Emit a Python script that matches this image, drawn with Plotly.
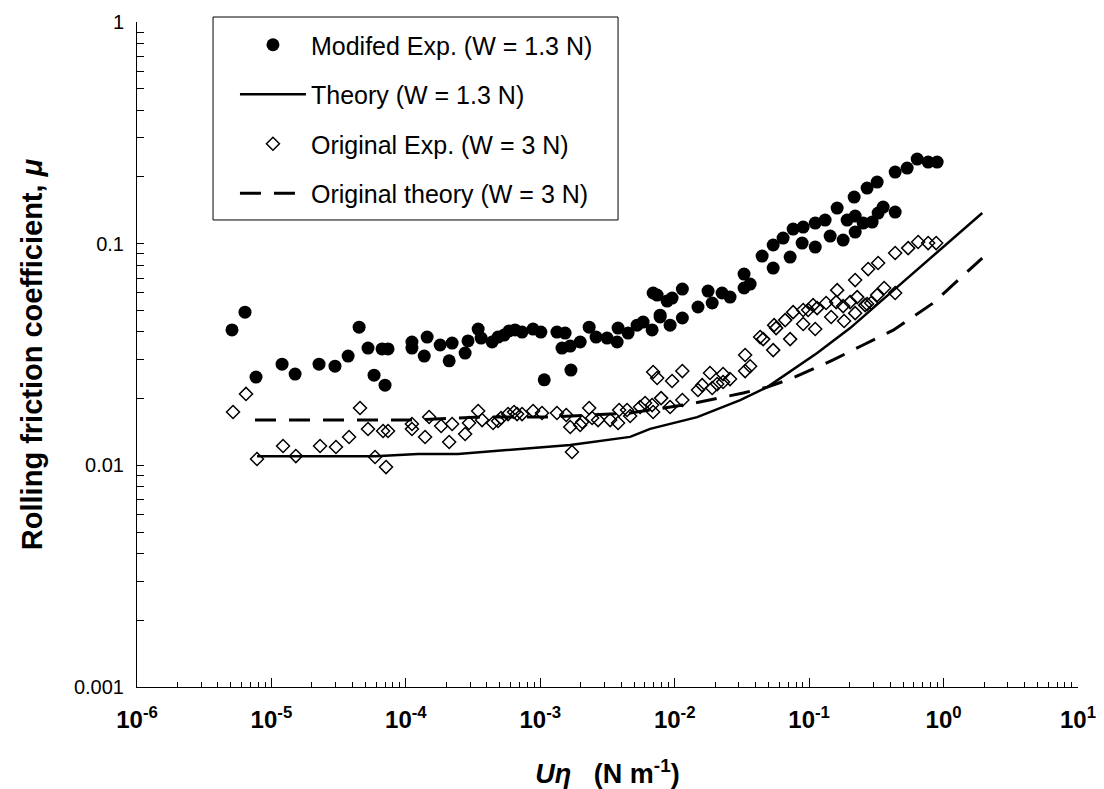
import plotly.graph_objects as go

# ---- Data ----
mod_x = [5.09e-6, 6.36e-6, 7.68e-6, 1.20e-5, 1.50e-5, 2.26e-5, 2.97e-5, 3.72e-5, 4.49e-5, 5.23e-5,
         5.80e-5, 6.65e-5, 7.37e-5, 7.00e-5, 1.11e-4, 1.11e-4, 1.44e-4, 1.37e-4, 1.80e-4, 2.21e-4,
         2.10e-4, 2.90e-4, 2.76e-4, 3.45e-4, 3.63e-4, 4.38e-4, 4.85e-4, 5.38e-4, 5.86e-4, 6.49e-4,
         7.32e-4, 8.84e-4, 1.01e-3, 1.07e-3, 1.33e-3, 1.53e-3, 1.45e-3, 1.67e-3, 1.98e-3, 2.31e-3,
         2.60e-3, 1.69e-3, 3.14e-3, 3.73e-3, 3.79e-3, 4.50e-3, 5.25e-3, 5.82e-3, 6.79e-3, 7.79e-3,
         6.91e-3, 8.78e-3, 7.79e-3, 9.24e-3, 1.14e-2, 9.56e-3, 1.14e-2, 7.40e-3, 1.49e-2, 1.77e-2,
         1.90e-2, 2.25e-2, 2.58e-2, 3.28e-2, 3.28e-2, 3.64e-2, 4.47e-2, 5.40e-2, 5.40e-2, 6.40e-2,
         7.22e-2, 7.60e-2, 8.87e-2, 9.03e-2, 0.111, 0.111, 0.1315, 0.1433, 0.1616, 0.179,
         0.1917, 0.220, 0.220, 0.2162, 0.2523, 0.270, 0.2943, 0.3206, 0.326, 0.3553,
         0.4364, 0.4364, 0.536, 0.6364, 0.768, 0.896]
mod_y = [0.0408, 0.0491, 0.0250, 0.0286, 0.0258, 0.0286, 0.0280, 0.0311, 0.0420, 0.0338,
         0.0255, 0.0335, 0.0335, 0.0230, 0.0360, 0.0338, 0.0379, 0.0311, 0.0349, 0.0356,
         0.0296, 0.0364, 0.0321, 0.0412, 0.0375, 0.0360, 0.0379, 0.0387, 0.0404, 0.0408,
         0.0399, 0.0412, 0.0399, 0.0243, 0.0399, 0.0395, 0.0338, 0.0345, 0.0360, 0.0420,
         0.0379, 0.0269, 0.0375, 0.0360, 0.0416, 0.0395, 0.0429, 0.0443, 0.0408, 0.0467,
         0.0599, 0.0551, 0.0476, 0.0429, 0.0462, 0.0568, 0.0624, 0.0586, 0.0518, 0.0611,
         0.0540, 0.0599, 0.0574, 0.0729, 0.0631, 0.0657, 0.0879, 0.0986, 0.0776, 0.106,
         0.0870, 0.1164, 0.1006, 0.1188, 0.0965, 0.1239, 0.1278, 0.1082, 0.1447, 0.1038,
         0.1278, 0.1332, 0.1128, 0.1622, 0.1239, 0.1781, 0.1252, 0.1896, 0.1374, 0.1463,
         0.1388, 0.2103, 0.2193, 0.2407, 0.2333, 0.2333]

orig_x = [5.18e-6, 6.47e-6, 7.81e-6, 1.22e-5, 1.52e-5, 2.30e-5, 3.02e-5, 3.78e-5, 4.56e-5, 5.23e-5,
          5.90e-5, 6.77e-5, 7.37e-5, 7.12e-5, 1.11e-4, 1.11e-4, 1.49e-4, 1.39e-4, 1.83e-4, 2.21e-4,
          2.10e-4, 2.95e-4, 2.76e-4, 3.45e-4, 3.69e-4, 4.45e-4, 4.85e-4, 5.11e-4, 5.76e-4, 6.38e-4,
          6.72e-4, 7.32e-4, 8.84e-4, 1.03e-3, 1.33e-3, 1.56e-3, 1.72e-3, 1.67e-3, 1.98e-3, 2.05e-3,
          2.31e-3, 2.43e-3, 2.69e-3, 3.31e-3, 3.79e-3, 3.86e-3, 4.42e-3, 4.66e-3, 5.53e-3, 6.02e-3,
          6.79e-3, 6.91e-3, 7.92e-3, 9.24e-3, 1.14e-2, 6.91e-3, 7.40e-3, 9.56e-3, 1.14e-2, 1.49e-2,
          1.60e-2, 1.83e-2, 1.90e-2, 2.07e-2, 2.29e-2, 2.29e-2, 2.58e-2, 3.34e-2, 3.34e-2, 3.64e-2,
          4.32e-2, 4.55e-2, 5.40e-2, 5.49e-2, 5.68e-2, 6.63e-2, 7.22e-2, 7.60e-2, 9.03e-2, 9.03e-2,
          9.83e-2, 0.107, 0.111, 0.1147, 0.1338, 0.1458, 0.1589, 0.1616, 0.179, 0.182,
          0.2018, 0.220, 0.2276, 0.220, 0.261, 0.270, 0.2893, 0.3206, 0.3614, 0.4364,
          0.2748, 0.326, 0.4364, 0.5453, 0.647, 0.768, 0.881]
orig_y = [0.0174, 0.0210, 0.01068, 0.01222, 0.01101, 0.01222, 0.01210, 0.01342, 0.01814, 0.01458,
          0.01090, 0.01428, 0.01428, 0.00982, 0.01536, 0.01458, 0.01652, 0.01342, 0.01504, 0.01536,
          0.01274, 0.01552, 0.01384, 0.01758, 0.0160, 0.01552, 0.01584, 0.01634, 0.01703, 0.0174,
          0.01703, 0.01703, 0.01758, 0.01722, 0.01722, 0.01686, 0.01148, 0.01489, 0.01520, 0.01568,
          0.01814, 0.01634, 0.0160, 0.0160, 0.01552, 0.01776, 0.01776, 0.01669, 0.01832, 0.0191,
          0.0187, 0.0174, 0.0201, 0.01832, 0.0197, 0.02635, 0.02476, 0.0240, 0.02662, 0.02186,
          0.0230, 0.02609, 0.02233, 0.02326, 0.0258, 0.02375, 0.0245, 0.03145, 0.02662, 0.0280,
          0.0379, 0.0371, 0.0331, 0.0429, 0.0416, 0.0452, 0.0371, 0.0491, 0.0502, 0.0434,
          0.0502, 0.0528, 0.0412, 0.0512, 0.0540, 0.0467, 0.0545, 0.0617, 0.0523, 0.0448,
          0.0545, 0.0486, 0.0574, 0.0685, 0.0528, 0.0534, 0.0540, 0.0586, 0.0631, 0.0599,
          0.0768, 0.0818, 0.0907, 0.0955, 0.1017, 0.1006, 0.1006]

theory_x = [7.82e-6, 5.9e-5, 1.23e-4, 2.44e-4, 1.67e-3, 4.66e-3, 6.56e-3, 0.0147, 0.0307, 0.0488,
            0.1148, 0.2018, 0.401, 1.94]
theory_y = [0.0110, 0.0110, 0.01125, 0.01125, 0.01235, 0.01344, 0.0146, 0.0165, 0.0197, 0.02254,
            0.0321, 0.0416, 0.0598, 0.1375]

otheory_x = [7.55e-6, 1.11e-4, 3.56e-4, 1.18e-3, 4.66e-3, 0.01303, 0.0323, 0.0488, 0.0760, 0.151,
             0.252, 0.422, 0.838, 1.94]
otheory_y = [0.0160, 0.0160, 0.01652, 0.01652, 0.01722, 0.0189, 0.0212, 0.02254, 0.0248, 0.0299,
             0.0349, 0.0407, 0.0540, 0.0861]

x_tickvals = [1e-6, 1e-5, 1e-4, 1e-3, 1e-2, 1e-1, 1e0, 1e1]
x_ticktext = ["10<sup>-6</sup>", "10<sup>-5</sup>", "10<sup>-4</sup>", "10<sup>-3</sup>",
              "10<sup>-2</sup>", "10<sup>-1</sup>", "10<sup>0</sup>", "10<sup>1</sup>"]
y_tickvals = [0.001, 0.01, 0.1, 1]
y_ticktext = ["0.001", "0.01", "0.1", "1"]

x_minor = [k * 10.0 ** e for e in range(-6, 1) for k in range(2, 10)]
y_minor = [k * 10.0 ** e for e in range(-3, 0) for k in range(2, 10)]

FONT = "Liberation Sans"

fig = go.Figure()
fig.add_trace(go.Scatter(
    x=mod_x, y=mod_y, mode="markers", name="Modifed Exp. (W = 1.3 N)",
    marker=dict(symbol="circle", size=13, color="black"), legendgroup="a"))
fig.add_trace(go.Scatter(
    x=theory_x, y=theory_y, mode="lines", name="Theory (W = 1.3 N)",
    line=dict(color="black", width=2.5), legendgroup="b"))
fig.add_trace(go.Scatter(
    x=orig_x, y=orig_y, mode="markers", name="Original Exp. (W = 3 N)",
    marker=dict(symbol="diamond-open", size=10, color="black", line=dict(width=1.5)),
    legendgroup="c"))
fig.add_trace(go.Scatter(
    x=otheory_x, y=otheory_y, mode="lines", name="Original theory (W = 3 N)",
    line=dict(color="black", width=3, dash="21px,13px"), legendgroup="d"))

# legend frame (decoration), in paper coordinates of the plot area
fig.add_shape(type="rect", xref="paper", yref="paper",
              x0=0.0808, x1=0.5112, y0=0.7023, y1=1.0075,
              line=dict(color="black", width=1), fillcolor="rgba(0,0,0,0)", layer="above")

fig.update_layout(
    width=1104, height=789,
    margin=dict(l=137, r=26, t=22, b=102),
    paper_bgcolor="white", plot_bgcolor="white",
    font=dict(family=FONT, color="black", size=16),
    showlegend=True,
    legend=dict(
        x=0.1041, y=1.0, xanchor="left", yanchor="top",
        borderwidth=0, bgcolor="rgba(0,0,0,0)",
        font=dict(family=FONT, size=25, color="black"),
        tracegroupgap=14, itemwidth=66,
    ),
    xaxis=dict(
        type="log", range=[-6, 1], automargin=False,
        tickmode="array", tickvals=x_tickvals, ticktext=x_ticktext,
        ticks="inside", ticklen=9, tickwidth=1, tickcolor="black",
        showline=True, linecolor="black", linewidth=1, mirror=False,
        showgrid=False, zeroline=False,
        tickfont=dict(family=FONT, size=24, weight="bold"),
        ticklabelstandoff=11,
        minor=dict(tickmode="array", tickvals=x_minor, ticks="inside", ticklen=5,
                   tickwidth=1, tickcolor="black", showgrid=False),
        title=dict(text="<i>Uη</i>\u00a0\u00a0\u00a0(N m<sup>-1</sup>)", standoff=32,
                   font=dict(family=FONT, size=27, weight="bold")),
    ),
    yaxis=dict(
        type="log", range=[-3, 0], automargin=False,
        tickmode="array", tickvals=y_tickvals, ticktext=y_ticktext,
        ticks="inside", ticklen=7, tickwidth=1, tickcolor="black",
        showline=True, linecolor="black", linewidth=1, mirror=False,
        showgrid=False, zeroline=False,
        tickfont=dict(family=FONT, size=20),
        ticklabelstandoff=8,
        minor=dict(tickmode="array", tickvals=y_minor, ticks="inside", ticklen=7,
                   tickwidth=1, tickcolor="black", showgrid=False),
        title=dict(text="Rolling friction coefficient, <i>μ</i>", standoff=22,
                   font=dict(family=FONT, size=29, weight="bold")),
    ),
)

fig.write_html("out.html")
